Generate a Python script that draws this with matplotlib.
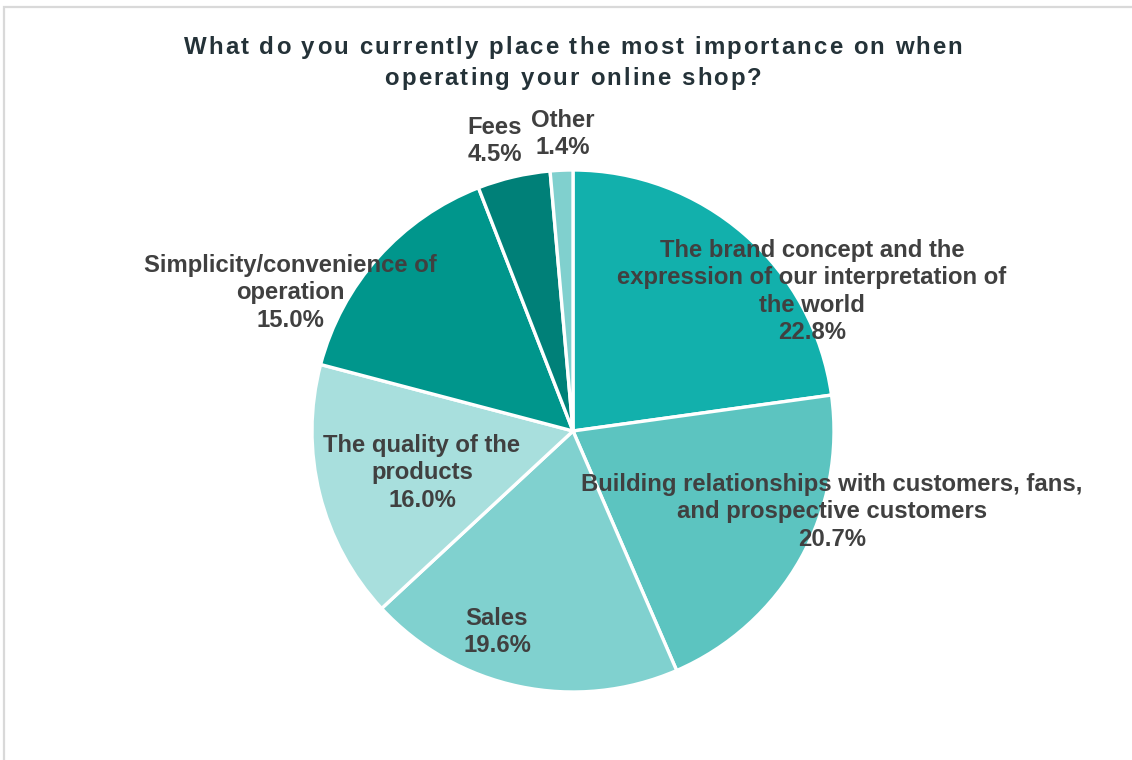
import matplotlib
matplotlib.use("Agg")
import matplotlib.pyplot as plt
from matplotlib.patches import Rectangle
from matplotlib.font_manager import FontProperties
from matplotlib.textpath import TextPath

categories = [
    "The brand concept and the\nexpression of our interpretation of\nthe world",
    "Building relationships with customers, fans,\nand prospective customers",
    "Sales",
    "The quality of the\nproducts",
    "Simplicity/convenience of\noperation",
    "Fees",
    "Other",
]
shares = [22.8, 20.7, 19.6, 16.0, 15.0, 4.5, 1.4]
colors = ["#12B0AC", "#5CC4C0", "#80D1CF", "#A8DFDD", "#00968C", "#008078", "#80D0CE"]
title_lines = ["What do you currently place the most importance on when",
               "operating your online shop?"]

# label anchors: centre x and first-line baseline y (pixels, origin top-left)
label_xy = [(812, 257), (832, 491), (497, 625), (422, 452), (290, 272), (495, 134), (563, 127)]
LINE_STEP = 27.3

W, H = 1132, 760
DPI = 100
fig = plt.figure(figsize=(W / DPI, H / DPI), dpi=DPI)
ax = fig.add_axes([0, 0, 1, 1])

ax.pie(shares, colors=colors, startangle=90, counterclock=False,
       center=(573, H - 431), radius=261,
       wedgeprops=dict(edgecolor="white", linewidth=2.4))

ax.set_xlim(0, W)
ax.set_ylim(0, H)
ax.set_aspect("equal")
ax.axis("off")

# chart frame
ax.add_patch(Rectangle((3.5, -20), W + 40, H - 6.5 + 20, fill=False,
                       edgecolor="#D9D9D9", linewidth=1.6))

font = ["Liberation Sans", "DejaVu Sans"]
for text, val, (x, y) in zip(categories, shares, label_xy):
    lines = f"{text}\n{val:.1f}%".split("\n")
    for k, ln in enumerate(lines):
        ax.text(x, H - (y + k * LINE_STEP), ln, ha="center", va="baseline",
                fontsize=17.2, fontweight="bold", color="#404040", family=font)

# title drawn glyph by glyph with letter tracking
tprop = FontProperties(family="Liberation Sans", weight="bold", size=17.3)
title_width = 779  # px, width of the first title line


def text_width(s):
    """Advance width of s in pixels (trailing spaces included)."""
    w = TextPath((0, 0), s + "|", prop=tprop).get_extents().x1
    w0 = TextPath((0, 0), "|", prop=tprop).get_extents().x1
    return (w - w0) * DPI / 72


first = title_lines[0]
tracking = (title_width - text_width(first)) / (len(first) - 1)

for line, base in zip(title_lines, [54, 85]):
    total = text_width(line) + tracking * (len(line) - 1)
    x0 = 573 - total / 2
    for i, ch in enumerate(line):
        if ch == " ":
            continue
        xi = x0 + text_width(line[:i]) + tracking * i
        ax.text(xi, H - base, ch, ha="left", va="baseline", fontproperties=tprop,
                color="#243238")

fig.savefig("out.png", dpi=DPI)
